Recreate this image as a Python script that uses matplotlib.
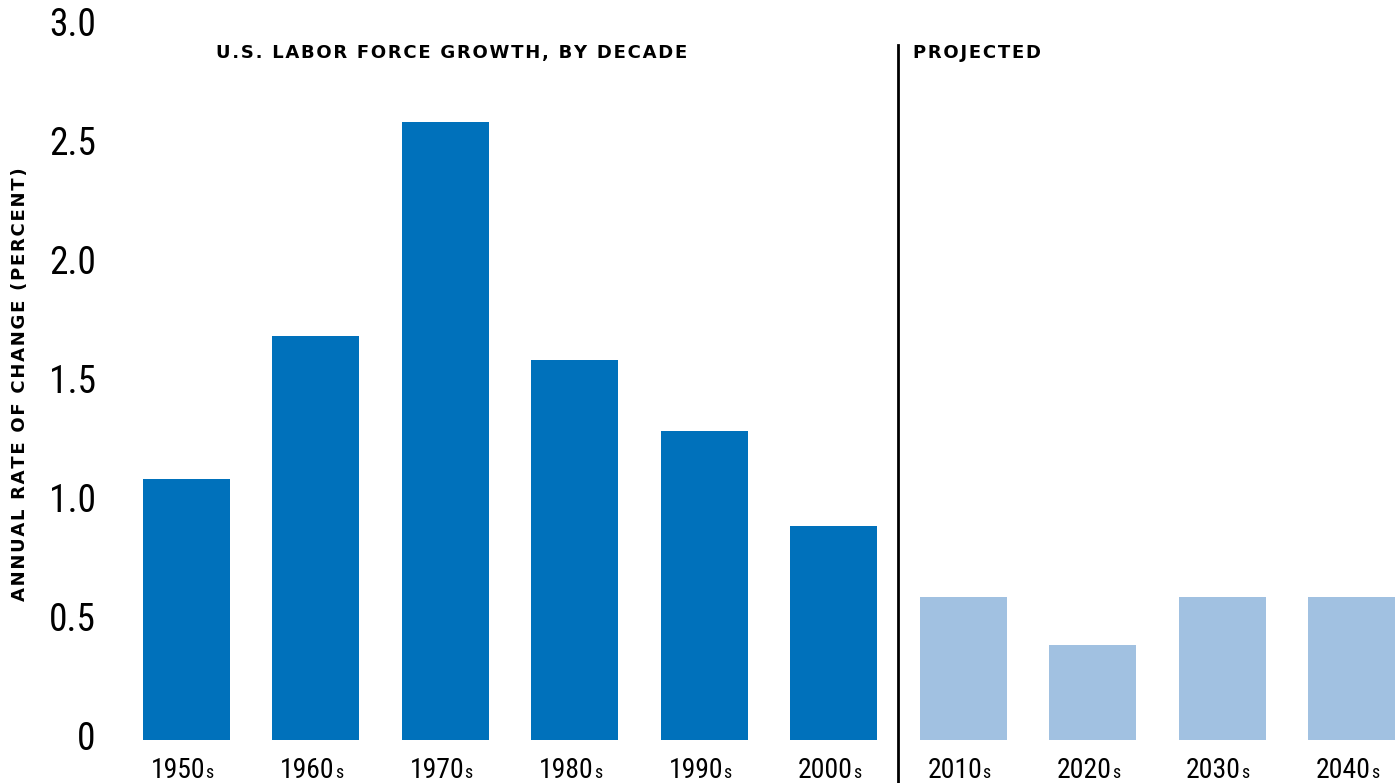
import matplotlib.pyplot as plt
import matplotlib.transforms as mtransforms

decades = ['1950', '1960', '1970', '1980', '1990', '2000', '2010', '2020', '2030', '2040']
growth = [1.1, 1.7, 2.6, 1.6, 1.3, 0.9, 0.6, 0.4, 0.6, 0.6]
projected = [False] * 6 + [True] * 4
yticks = [0, 0.5, 1.0, 1.5, 2.0, 2.5, 3.0]
ytick_labels = ['0', '0.5', '1.0', '1.5', '2.0', '2.5', '3.0']

dark = '#0071bb'
light = '#a1c1e1'
num_font = ['Roboto Condensed', 'Liberation Sans Narrow', 'Roboto']

W, H = 1398, 783
fig = plt.figure(figsize=(W / 100, H / 100), dpi=100)
ax = fig.add_axes([143 / W, (H - 740) / H, (1395 - 143) / W, (740 - 27) / H])

x = list(range(len(decades)))
colors = [light if p else dark for p in projected]
ax.bar(x, growth, width=0.67, color=colors)

ax.set_xlim(-0.335, len(decades) - 1 + 0.335)
ax.set_ylim(0, 3.0)
ax.set_yticks(yticks)
ax.set_yticklabels(ytick_labels, fontsize=27, family=num_font)
ax.tick_params(axis='y', length=0, pad=34)
shift = mtransforms.ScaledTranslation(0, 5 / 100, fig.dpi_scale_trans)
for lab in ax.get_yticklabels():
    lab.set_transform(lab.get_transform() + shift)
ax.set_xticks([])
for s in ax.spines.values():
    s.set_visible(False)

# decade labels with small "s"
for i, d in enumerate(decades):
    ax.annotate(d, xy=(i, 0), xytext=(19, -38), textcoords='offset pixels',
                ha='right', va='baseline', fontsize=20, family=num_font,
                annotation_clip=False)
    ax.annotate('s', xy=(i, 0), xytext=(19, -38), textcoords='offset pixels',
                ha='left', va='baseline', fontsize=13, family=num_font,
                annotation_clip=False)

# divider between actual and projected
trans = mtransforms.blended_transform_factory(ax.transData, ax.transAxes)
ax.plot([5.5, 5.5], [(740 - 45) / 713, -43 / 713], color='black', lw=2,
        transform=trans, clip_on=False)


def spaced(s):
    return '\u200a'.join(s)


fig.text(216 / W, 1 - 53 / H, spaced('U.S. LABOR FORCE GROWTH, BY DECADE'),
         fontsize=13, fontweight='bold', va='center', ha='left')
fig.text(913 / W, 1 - 53 / H, spaced('PROJECTED'),
         fontsize=13, fontweight='bold', va='center', ha='left')
fig.text(20 / W, 1 - 384 / H, spaced('ANNUAL RATE OF CHANGE (PERCENT)'),
         fontsize=13, fontweight='bold', va='center', ha='center', rotation=90)

fig.savefig('out.png', dpi=100)
